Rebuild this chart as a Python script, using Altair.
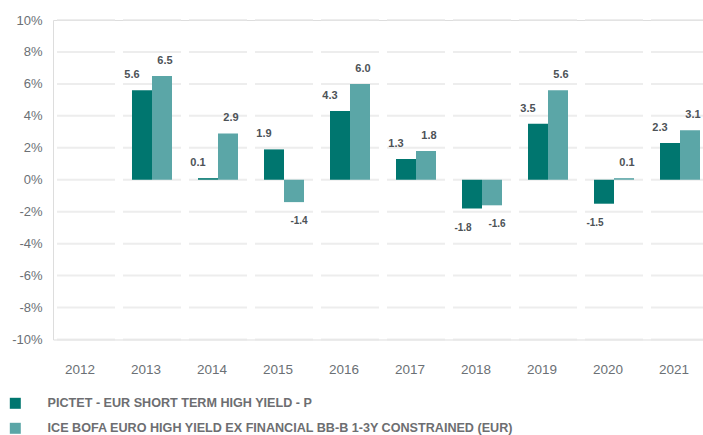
import altair as alt
import pandas as pd

years = ["2012", "2013", "2014", "2015", "2016", "2017", "2018", "2019", "2020", "2021"]
fund_name = "PICTET - EUR SHORT TERM HIGH YIELD - P"
bench_name = "ICE BOFA EURO HIGH YIELD EX FINANCIAL BB-B 1-3Y CONSTRAINED (EUR)"
fund = [None, 5.6, 0.1, 1.9, 4.3, 1.3, -1.8, 3.5, -1.5, 2.3]
bench = [None, 6.5, 2.9, -1.4, 6.0, 1.8, -1.6, 5.6, 0.1, 3.1]
y_ticks = [-10, -8, -6, -4, -2, 0, 2, 4, 6, 8, 10]

rows = []
for y, f, b in zip(years, fund, bench):
    if f is not None:
        rows.append({"year": y, "series": fund_name, "value": f, "label": f"{f:.1f}"})
    if b is not None:
        rows.append({"year": y, "series": bench_name, "value": b, "label": f"{b:.1f}"})
df = pd.DataFrame(rows)
grid = pd.DataFrame([{"year": y, "v": t} for y in years for t in y_ticks])

DARK = "#00766F"
LIGHT = "#5BA6A7"

xscale = alt.Scale(domain=years, range=[13, 647], paddingInner=0.394, paddingOuter=0)
x_enc = alt.X("year:N", scale=xscale, sort=years,
              axis=alt.Axis(title=None, labelAngle=0, domain=False, ticks=False,
                            labelPadding=30, labelFontSize=13.5, labelColor="#6b7075",
                            labelFont="Liberation Sans", labelOffset=9))
yscale = alt.Scale(domain=[-10, 10], nice=False)
y_axis = alt.Axis(title=None, values=y_ticks, labelExpr="datum.value + '%'",
                  grid=False, domain=False, ticks=False, labelPadding=11,
                  labelOverlap=False, labelFlush=False,
                  labelFontSize=13, labelColor="#6b7075", labelFont="Liberation Sans")

gridlines = alt.Chart(grid).mark_tick(color="#e5e5e5", thickness=2, size=58,
                                      orient="horizontal").encode(
    x=alt.X("year:N", scale=xscale, sort=years),
    y=alt.Y("v:Q", scale=yscale, axis=y_axis),
)

bars = alt.Chart(df).mark_bar(size=20).encode(
    x=x_enc,
    xOffset=alt.XOffset("series:N", sort=[fund_name, bench_name],
                        scale=alt.Scale(domain=[fund_name, bench_name])),
    y=alt.Y("value:Q", scale=yscale, axis=y_axis),
    color=alt.Color("series:N", sort=[fund_name, bench_name],
                    scale=alt.Scale(domain=[fund_name, bench_name], range=[DARK, LIGHT]),
                    legend=alt.Legend(title=None, orient="none", legendX=-44, legendY=377,
                                      symbolType="square", symbolSize=121, symbolStrokeWidth=0,
                                      labelOffset=26, labelFont="Liberation Sans",
                                      labelFontWeight="bold", labelFontSize=12.6,
                                      labelColor="#6d6e71", labelLimit=700, rowPadding=12)),
)

def label_layer(series, positive, dx):
    cond = "datum.value >= 0" if positive else "datum.value < 0"
    return alt.Chart(df).transform_filter(
        f"datum.series == '{series}' && {cond}"
    ).mark_text(
        dx=dx, dy=-15 if positive else 19, baseline="middle", fontWeight="bold",
        fontSize=11 if positive else 10, color="#4d5257", font="Liberation Sans"
    ).encode(
        x=alt.X("year:N", scale=xscale, sort=years),
        xOffset=alt.XOffset("series:N", sort=[fund_name, bench_name],
                            scale=alt.Scale(domain=[fund_name, bench_name])),
        y=alt.Y("value:Q", scale=yscale, axis=y_axis),
        text=alt.Text("label:N"),
    )

labels = [label_layer(fund_name, True, -10), label_layer(fund_name, False, -9),
          label_layer(bench_name, True, 3), label_layer(bench_name, False, 5)]

chart = alt.layer(gridlines, bars, *labels).properties(
    width=650, height=319.5,
    autosize=alt.AutoSizeParams(type="none"),
    padding={"left": 53, "top": 20, "right": 0, "bottom": 95.5},
).configure_view(stroke=None).configure_axisY(labelOverlap=False).configure(background="white")

chart.save("out.html", embed_options={"renderer": "svg", "actions": False})
